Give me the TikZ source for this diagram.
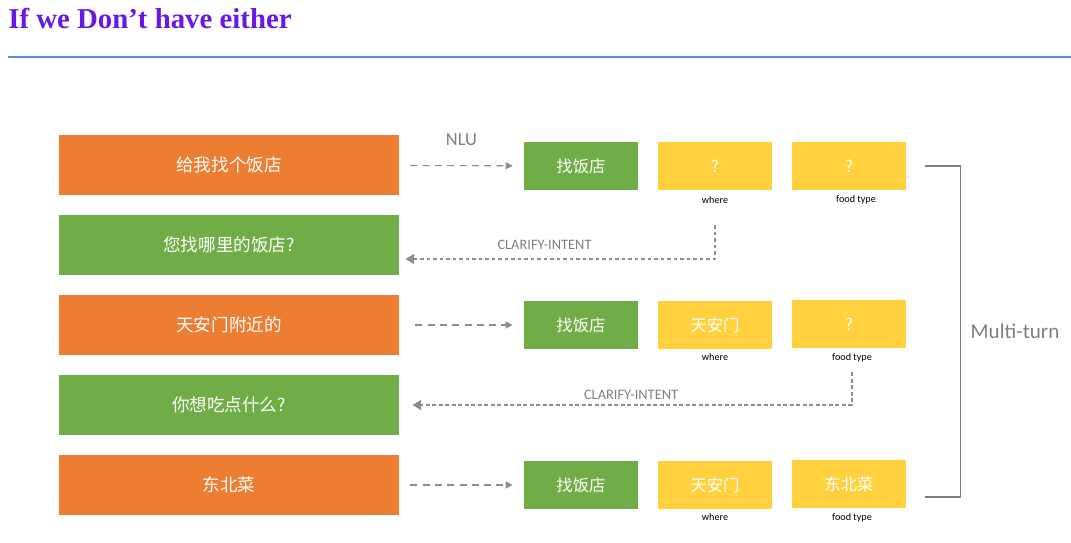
\documentclass[tikz,border=0pt]{standalone}
\usepackage{fontspec}
\setmainfont{Carlito}
\newfontfamily\cjk{Noto Sans CJK SC}
\newfontfamily\titlefont{Liberation Serif}
\usetikzlibrary{arrows.meta,calc}

\definecolor{titlepurple}{RGB}{104,26,228}
\definecolor{ruleblue}{RGB}{91,141,219}
\definecolor{turnorange}{RGB}{237,125,49}
\definecolor{turngreen}{RGB}{112,173,71}
\definecolor{slotyellow}{RGB}{255,209,63}
\definecolor{arrowgrey}{RGB}{140,140,140}
\definecolor{textgrey}{RGB}{127,127,127}

\begin{document}
\begin{tikzpicture}[x=0.02cm,y=-0.02cm,
  bigbox/.style={minimum width=6.8cm,minimum height=1.2cm,inner sep=0pt,text=white,font=\cjk\fontsize{10}{12}\selectfont},
  orangebox/.style={bigbox,fill=turnorange},
  greenbox/.style={bigbox,fill=turngreen},
  slotbox/.style={minimum width=2.28cm,minimum height=0.96cm,inner sep=0pt,text=white,font=\cjk\fontsize{9.3}{11}\selectfont},
  intentbox/.style={slotbox,fill=turngreen},
  valuebox/.style={slotbox,fill=slotyellow},
  slotname/.style={font=\fontsize{5.8}{7}\selectfont,inner sep=0pt},
  nluarrow/.style={draw=arrowgrey,line width=0.6pt,dash pattern=on 4pt off 3pt,-{Triangle[length=4pt,width=4pt]},shorten <=0.22cm,shorten >=0.22cm},
  askarrow/.style={draw=arrowgrey,line width=1.4pt,dash pattern=on 2.2pt off 1.5pt,-{Triangle[length=5pt,width=5.5pt]}},
  asklabel/.style={text=textgrey,font=\fontsize{8.2}{9}\selectfont,inner sep=0pt}]
  \useasboundingbox (0,0) rectangle (1071,543);

  % Title and rule
  \node[anchor=base west,inner sep=0pt,text=titlepurple,font=\titlefont\bfseries\fontsize{16.4}{19}\selectfont] (title) at (8,29) {If we Don’t have either};
  \draw[ruleblue,line width=0.6pt] (8,57) -- (1071,57);

  % Dialogue turns
  \node[orangebox] (say1) at (229,165) {给我找个饭店};
  \node[greenbox]  (ask1) at (229,245) {您找哪里的饭店?};
  \node[orangebox] (say2) at (229,325) {天安门附近的};
  \node[greenbox]  (ask2) at (229,405) {你想吃点什么?};
  \node[orangebox] (say3) at (229,485) {东北菜};

  % Intent and slots, turn 1
  \node[intentbox] (intent1) at (581,166) {找饭店};
  \node[valuebox]  (where1)  at (715,166) {?};
  \node[valuebox]  (food1)   at (849,166) {?};
  \node[slotname]  (wherelbl1) at (715,200) {where};
  \node[slotname]  (foodlbl1)  at (856,200) {food type};

  % Intent and slots, turn 2
  \node[intentbox] (intent2) at (581,325) {找饭店};
  \node[valuebox]  (where2)  at (715,325) {天安门};
  \node[valuebox]  (food2)   at (849,324) {?};
  \node[slotname]  (wherelbl2) at (715,357) {where};
  \node[slotname]  (foodlbl2)  at (852,358) {food type};

  % Intent and slots, turn 3
  \node[intentbox] (intent3) at (581,485) {找饭店};
  \node[valuebox]  (where3)  at (715,485) {天安门};
  \node[valuebox]  (food3)   at (849,484) {东北菜};
  \node[slotname]  (wherelbl3) at (715,517) {where};
  \node[slotname]  (foodlbl3)  at (852,518) {food type};

  % NLU arrows
  \draw[nluarrow] (say1) -- (intent1) node[midway,above=11pt,text=textgrey,inner sep=0pt,font=\fontsize{10.5}{12}\selectfont] (nlu) {NLU};
  \draw[nluarrow,shorten <=0.32cm] (say2) -- (intent2);
  \draw[nluarrow] (say3) -- (intent3);

  % Clarify arrows
  \coordinate (ask1in) at ($(ask1.east)+(0,14)$);
  \draw[askarrow,shorten <=12pt,shorten >=0.12cm] (wherelbl1) |- (ask1in)
    node[pos=0.77,above=4.5pt,asklabel] (clar1) {CLARIFY-INTENT};
  \draw[askarrow,shorten <=5.5pt,shorten >=0.26cm] (foodlbl2) |- (ask2.east)
    node[pos=0.744,above=2.5pt,asklabel] (clar2) {CLARIFY-INTENT};

  % Multi-turn bracket
  \coordinate (brtop) at ($(food1.east)+(19,0)$);
  \coordinate (brbot) at ($(food3.east)+(19,13)$);
  \draw[textgrey,line width=0.7pt] (brtop) -- ++(35,0) coordinate (brcorner) |- (brbot);
  \node[anchor=west,inner sep=0pt,text=textgrey,font=\fontsize{12}{14}\selectfont] (multiturn) at ($(brcorner)!0.5!(brcorner |- brbot)+(10,0)$) {Multi-turn};
\end{tikzpicture}
\end{document}
